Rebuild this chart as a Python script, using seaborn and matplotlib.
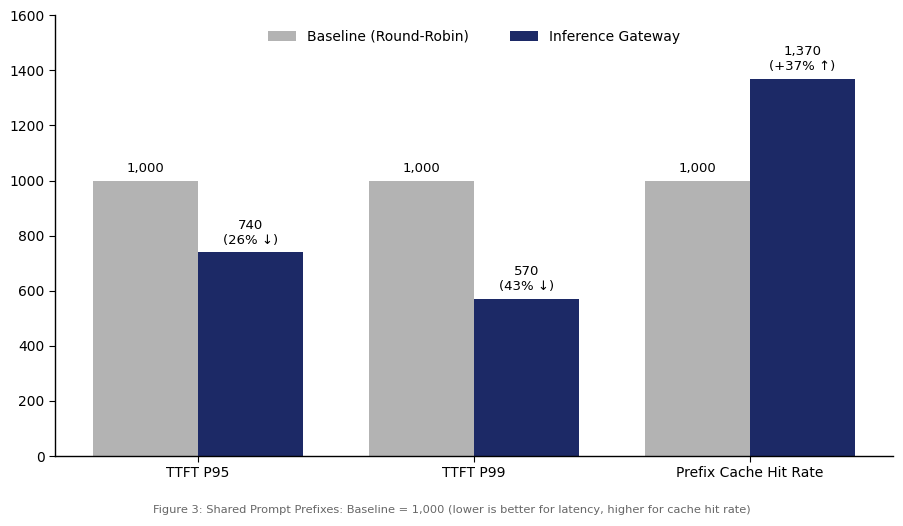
import pandas as pd
import matplotlib
import matplotlib.pyplot as plt
import seaborn as sns

matplotlib.use('Agg')

# chart values
metrics = ['TTFT P95', 'TTFT P99', 'Prefix Cache Hit Rate']
baseline = [1000, 1000, 1000]
gateway = [740, 570, 1370]
gateway_notes = ['(26% ↓)', '(43% ↓)', '(+37% ↑)']
series_names = ['Baseline (Round-Robin)', 'Inference Gateway']

df = pd.DataFrame({
    'metric': metrics * 2,
    'value': baseline + gateway,
    'series': [series_names[0]] * 3 + [series_names[1]] * 3,
})

sns.set_style('white', rc={'text.color': 'black', 'axes.labelcolor': 'black',
                           'xtick.color': 'black', 'ytick.color': 'black',
                           'axes.edgecolor': 'black'})
plt.rcParams['font.family'] = ['DejaVu Sans']

fig = plt.figure(figsize=(9.04, 5.26), dpi=100)
ax = fig.add_axes([0.0608, 0.133, 0.927, 0.838])

sns.barplot(data=df, x='metric', y='value', hue='series',
            palette=['#b3b3b3', '#1c2966'], width=0.76, saturation=1,
            linewidth=0, edgecolor='none', ax=ax)

ax.set_xlim(-0.518, 2.518)
ax.set_ylim(0, 1600)
ax.set_xlabel('')
ax.set_ylabel('')
ax.tick_params(axis='both', labelsize=10, length=4, color='black', left=True, bottom=True)
sns.despine(ax=ax)
for s in ['left', 'bottom']:
    ax.spines[s].set_color('black')
    ax.spines[s].set_linewidth(1)

# value labels
for i, v in enumerate(baseline):
    ax.annotate(f'{v:,}', (i - 0.19, v), xytext=(0, 4), textcoords='offset points',
                ha='center', va='bottom', fontsize=9.5)
for i, (v, note) in enumerate(zip(gateway, gateway_notes)):
    ax.annotate(f'{v:,}\n{note}', (i + 0.19, v), xytext=(0, 4), textcoords='offset points',
                ha='center', va='bottom', fontsize=9.5)

ax.legend(loc='upper center', ncol=2, frameon=False, fontsize=10,
          bbox_to_anchor=(0.5, 0.995), handlelength=2, columnspacing=3)

fig.text(0.5, 0.031, 'Figure 3: Shared Prompt Prefixes: Baseline = 1,000 (lower is better for latency, higher for cache hit rate)',
         ha='center', va='center', fontsize=8.2, color='#666666')

plt.savefig('out.png', dpi=100)
plt.close()
